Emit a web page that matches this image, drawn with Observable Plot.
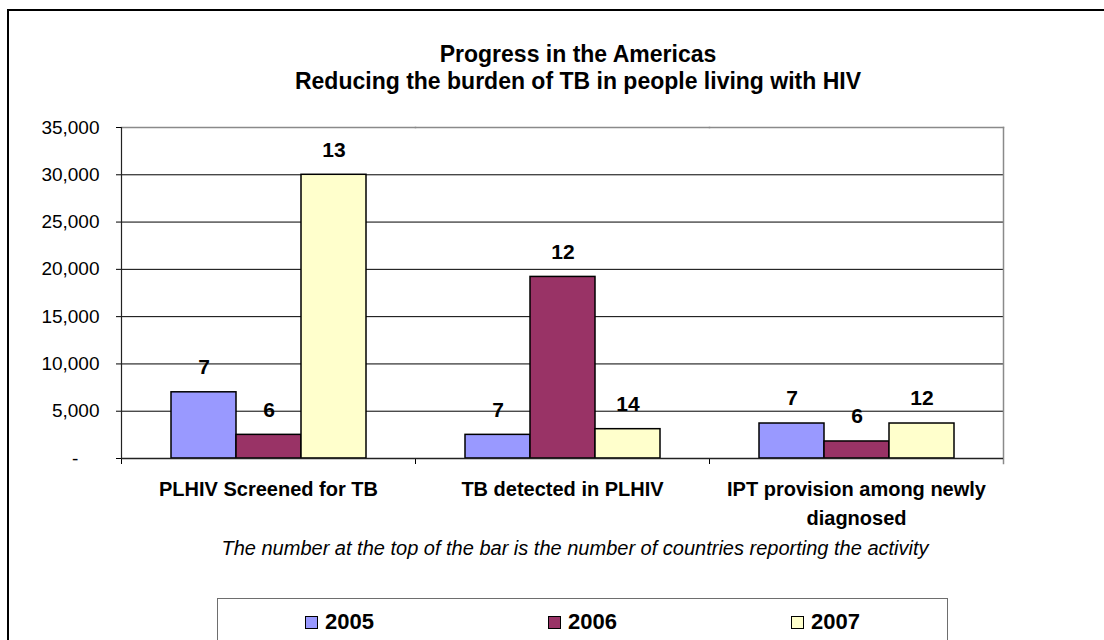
<!DOCTYPE html>
<html>
<head>
<meta charset="utf-8">
<script src="https://cdn.jsdelivr.net/npm/d3@7"></script>
<script src="https://cdn.jsdelivr.net/npm/@observablehq/plot@0.6"></script>
<style>
  html, body { margin: 0; padding: 0; background: #fff; }
  body { font-family: "Liberation Sans", Arial, sans-serif; color: #000; }
  #wrap { position: relative; width: 1104px; height: 640px; overflow: hidden; background: #fff; }
  #border { position: absolute; left: 7px; top: 9px; width: 1160px; height: 700px; border: 2px solid #000; box-sizing: border-box; }
  #title { position: absolute; left: 0; width: 1156px; top: 41px; text-align: center; font-weight: bold; font-size: 23px; line-height: 27px; }
  #chart { position: absolute; left: 0; top: 100px; }
  #caption { position: absolute; left: 0; width: 1150px; top: 536px; text-align: center; font-style: italic; font-size: 20px; line-height: 24px; }
  #legend { position: absolute; left: 217px; top: 598px; width: 731px; height: 60px; border: 1px solid #6e6e6e; box-sizing: border-box; display: grid; grid-template-columns: repeat(3, 1fr); align-items: start; }
  .item { display: flex; justify-content: center; align-items: center; height: 46px; font-weight: bold; font-size: 22px; }
  .sw { width: 11px; height: 11px; border: 1px solid #000; margin-right: 7px; }
</style>
</head>
<body>
<div id="wrap">
  <div id="border"></div>
  <div id="title"></div>
  <div id="chart"></div>
  <div id="caption"></div>
  <div id="legend"></div>
</div>
<script>
// ---- data ----
const titleLines = ["Progress in the Americas", "Reducing the burden of TB in people living with HIV"];
const caption = "The number at the top of the bar is the number of countries reporting the activity";
const categories = ["PLHIV Screened for TB", "TB detected in PLHIV", "IPT provision among newly diagnosed"];
const categoryLabels = ["PLHIV Screened for TB", "TB detected in PLHIV", "IPT provision among newly\ndiagnosed"];
const years = ["2005", "2006", "2007"];
const values2005 = [7000, 2500, 3700];
const values2006 = [2500, 19200, 1800];
const values2007 = [30000, 3100, 3700];
const countries2005 = [7, 7, 7];
const countries2006 = [6, 12, 6];
const countries2007 = [13, 14, 12];
const colors = ["#9999FF", "#993366", "#FFFFCC"];
const yTicks = [0, 5000, 10000, 15000, 20000, 25000, 30000, 35000];

// ---- table ----
const seriesValues = [values2005, values2006, values2007];
const seriesCountries = [countries2005, countries2006, countries2007];
const rows = [];
categories.forEach((c, i) => {
  years.forEach((y, j) => {
    rows.push({category: c, year: y, value: seriesValues[j][i], countries: seriesCountries[j][i]});
  });
});

// ---- title / caption / legend ----
document.getElementById("title").innerHTML = titleLines.map(t => `<div>${t}</div>`).join("");
document.getElementById("caption").textContent = caption;
document.getElementById("legend").innerHTML = years.map((y, j) =>
  `<div class="item"><span class="sw" style="background:${colors[j]}"></span><span>${y}</span></div>`).join("");

// ---- chart ----
const W = 1104, H = 430, mT = 27, mB = 72, mL = 120, mR = 101;
const plotH = H - mT - mB;
const fmt = d3.format(",");

const chart = Plot.plot({
  width: W,
  height: H,
  marginTop: mT,
  marginBottom: mB,
  marginLeft: mL,
  marginRight: mR,
  style: {background: "transparent", fontFamily: "'Liberation Sans', Arial, sans-serif", color: "#000", overflow: "visible"},
  fx: {domain: categories, padding: 0, label: null, axis: null},
  x: {domain: years, paddingInner: 0, paddingOuter: 0.75, axis: null},
  y: {domain: [0, 35000], axis: null},
  color: {domain: years, range: colors},
  marks: [
    Plot.ruleY(yTicks.slice(1, -1), {stroke: "#000", strokeWidth: 1}),
    Plot.frame({anchor: "top", stroke: "#8a8a8a", strokeWidth: 1.5}),
    Plot.frame({anchor: "right", stroke: "#8a8a8a", strokeWidth: 1.5, facetAnchor: "right", insetBottom: -5}),
    Plot.frame({anchor: "left", stroke: "#000", insetTop: plotH, insetBottom: -5}),
    Plot.barY(rows, {fx: "category", x: "year", y: "value", fill: "year", stroke: "#000", strokeWidth: 1.5}),
    Plot.text(rows, {fx: "category", x: "year", y: "value", text: "countries", dy: -25, fontSize: 21, fontWeight: "bold", fill: "#000"}),
    Plot.ruleY([0], {stroke: "#222", strokeWidth: 1.5}),
    Plot.frame({anchor: "left", stroke: "#222", strokeWidth: 1.2, facetAnchor: "left"}),
    Plot.axisY({ticks: yTicks, tickFormat: d => d === 0 ? "-\u00a0\u00a0\u00a0\u00a0" : fmt(d), tickSize: 5, tickPadding: 17, fontSize: 19, label: null, anchor: "left"}),
    Plot.axisFx({anchor: "bottom", tickSize: 0, tickPadding: 17, fontSize: 20, fontWeight: "bold", lineHeight: 1.45, label: null, tickFormat: d => categoryLabels[categories.indexOf(d)]})
  ]
});
document.getElementById("chart").appendChild(chart);
</script>
</body>
</html>
